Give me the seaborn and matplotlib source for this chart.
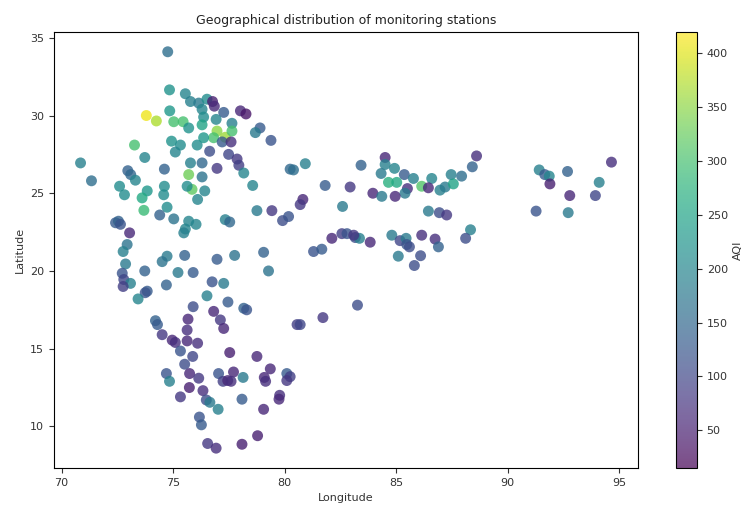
import matplotlib
matplotlib.use("Agg")
import matplotlib.pyplot as plt
import seaborn as sns
import pandas as pd
from matplotlib.colorbar import Colorbar
from matplotlib.colors import Normalize

# Station coordinates and their AQI readings
longitude = [
    74.76, 74.84, 75.55, 75.78, 76.15, 76.52, 76.77, 76.85, 76.30, 77.27,
    78.02, 78.27, 73.80, 74.25, 74.85, 75.03, 75.45, 75.70, 76.37, 76.30,
    76.93, 77.64, 76.97, 77.34, 76.82, 77.64, 77.20, 77.60, 74.93, 75.33,
    76.08, 76.37, 76.64, 75.10, 73.27, 73.73, 74.61, 75.78, 76.30, 76.97,
    77.49, 77.87, 77.95, 78.17, 70.85, 71.34, 72.97, 73.10, 73.31, 72.60,
    73.84, 74.61, 75.70, 75.85, 75.63, 76.30, 76.42, 78.57,
    72.82, 73.61, 74.58, 73.69, 74.73, 74.40, 75.03, 76.10, 75.70, 76.03,
    75.55, 75.48, 77.34, 77.54, 72.42, 72.55, 72.64, 73.05, 72.94, 72.76,
    74.73, 74.51, 75.52, 76.97, 77.76, 72.87, 73.73, 75.22, 75.90, 72.72,
    72.79, 73.09, 72.76, 73.84, 73.75, 74.70, 73.43, 76.75, 77.27, 76.52,
    77.46, 75.90, 76.82, 78.17, 78.30, 74.21, 74.30, 75.67, 77.12, 75.63,
    77.27, 74.51, 74.96, 75.10, 75.63, 76.10, 75.33, 77.54,
    75.88, 78.76, 75.52, 75.74, 76.15, 74.70, 74.84, 77.04, 77.71, 77.24,
    77.45, 77.60, 78.14, 79.36, 79.09, 79.15, 80.10, 80.25, 80.10, 79.78,
    79.75, 79.06, 75.73, 75.33, 76.34, 76.49, 76.65, 77.02, 78.09, 76.18,
    76.27, 76.55, 76.93, 78.09, 78.79, 80.56, 80.70, 81.72, 83.27,
    78.90, 78.69, 79.39, 80.25, 80.40, 80.93, 81.82, 82.94, 83.43, 84.51,
    84.51, 84.93, 84.33, 85.37, 85.78, 86.60, 87.47, 87.94, 88.42, 88.61,
    84.66, 85.03, 85.51, 85.40, 86.15, 86.45, 86.97, 87.20, 87.57, 83.96,
    84.36, 84.96, 80.82, 80.70, 82.60, 86.45, 86.94, 87.27, 82.12, 82.57,
    82.80, 83.17, 83.36, 83.10, 83.84, 81.30, 81.67, 84.81, 85.18, 85.45,
    85.48, 85.60, 86.15, 86.75, 86.90, 85.10, 86.10, 85.82, 88.34, 88.12,
    91.42, 91.67, 91.87, 91.90, 92.69, 92.79, 92.72, 91.28, 94.11, 93.94,
    94.66, 78.76, 79.43, 79.91, 80.18, 79.06, 79.28,
]
latitude = [
    34.10, 31.65, 31.40, 30.90, 30.80, 31.05, 30.90, 30.60, 30.40, 30.20,
    30.30, 30.10, 30.00, 29.65, 30.30, 29.60, 29.60, 29.20, 29.90, 29.40,
    29.75, 29.50, 29.00, 28.60, 28.57, 29.00, 28.30, 28.30, 28.35, 28.10,
    28.10, 28.57, 27.70, 27.65, 28.10, 27.30, 26.55, 26.95, 26.95, 26.60,
    27.50, 27.20, 26.80, 26.30, 26.95, 25.80, 26.45, 26.20, 25.84, 25.45,
    25.15, 25.45, 26.20, 25.25, 25.45, 26.05, 25.15, 25.50,
    24.90, 24.70, 24.90, 23.90, 24.10, 23.60, 23.35, 24.60, 23.20, 23.00,
    22.70, 22.45, 23.30, 23.15, 23.10, 23.20, 23.00, 22.45, 21.70, 21.25,
    20.95, 20.60, 21.00, 20.75, 21.00, 20.45, 20.00, 19.90, 19.90, 19.85,
    19.45, 19.20, 19.00, 18.70, 18.60, 19.10, 18.20, 19.30, 19.20, 18.40,
    18.00, 17.70, 17.40, 17.60, 17.50, 16.80, 16.55, 16.90, 16.85, 16.20,
    16.30, 15.90, 15.55, 15.40, 15.50, 15.35, 14.85, 14.75,
    14.50, 14.50, 14.00, 13.40, 13.10, 13.40, 12.90, 13.40, 13.50, 12.90,
    12.95, 12.90, 13.15, 13.70, 13.15, 12.90, 13.40, 13.20, 12.95, 12.00,
    11.75, 11.10, 12.50, 11.90, 12.30, 11.70, 11.55, 11.10, 11.75, 10.60,
    10.10, 8.90, 8.60, 8.85, 9.40, 16.55, 16.55, 17.00, 17.80,
    29.20, 28.90, 28.40, 26.55, 26.50, 26.90, 25.50, 25.40, 26.80, 27.30,
    26.85, 26.60, 26.27, 26.20, 25.95, 25.95, 26.20, 26.10, 26.70, 27.40,
    25.70, 25.70, 25.30, 25.00, 25.45, 25.35, 25.20, 25.40, 25.60, 25.00,
    24.80, 24.80, 24.60, 24.27, 24.15, 23.85, 23.75, 23.60, 22.10, 22.40,
    22.40, 22.15, 22.10, 22.30, 21.85, 21.25, 21.40, 22.30, 21.95, 22.10,
    21.70, 21.55, 22.30, 22.05, 21.55, 20.95, 20.98, 20.35, 22.65, 22.10,
    26.50, 26.20, 26.10, 25.60, 26.40, 24.85, 23.75, 23.85, 25.70, 24.85,
    27.00, 23.88, 23.88, 23.24, 23.50, 21.20, 20.00,
]
aqi = [
    160, 220, 200, 190, 180, 210, 50, 60, 200, 130,
    60, 40, 410, 370, 230, 300, 300, 220, 210, 250,
    200, 190, 350, 360, 300, 300, 130, 70, 220, 210,
    210, 230, 110, 200, 300, 200, 140, 190, 150, 80,
    100, 80, 90, 200, 190, 160, 140, 150, 200, 210,
    230, 210, 330, 320, 210, 170, 200, 200,
    210, 260, 210, 290, 210, 140, 170, 200, 200, 200,
    200, 190, 190, 150, 130, 140, 120, 60, 170, 190,
    180, 170, 140, 130, 170, 180, 140, 180, 130, 120,
    100, 190, 90, 130, 120, 140, 200, 120, 180, 190,
    130, 110, 60, 140, 120, 140, 130, 60, 80, 70,
    60, 80, 60, 70, 60, 70, 120, 50,
    100, 60, 110, 60, 80, 120, 190, 120, 60, 90,
    60, 70, 180, 60, 60, 70, 130, 90, 80, 70,
    60, 60, 50, 80, 70, 110, 180, 190, 130, 120,
    130, 80, 70, 50, 50, 90, 100, 80, 110,
    130, 180, 120, 150, 160, 190, 130, 80, 140, 60,
    190, 200, 180, 130, 190, 200, 190, 160, 140, 70,
    270, 260, 70, 180, 310, 60, 190, 180, 250, 60,
    180, 60, 60, 80, 180, 180, 110, 80, 60, 90,
    120, 110, 190, 80, 60, 120, 130, 180, 100, 180,
    120, 110, 70, 70, 140, 180, 110, 110, 190, 110,
    190, 130, 200, 50, 140, 60, 180, 120, 190, 100,
    70, 180, 80, 110, 120, 140, 170,
]

df = pd.DataFrame({"Longitude": longitude, "Latitude": latitude, "AQI": aqi})

aqi_min, aqi_max = 15, 420
point_alpha = 0.8

fig = plt.figure(figsize=(7.49, 5.09), dpi=100)
ax = fig.add_axes([0.0721, 0.0806, 0.7797, 0.8566])
cax = fig.add_axes([0.9025, 0.0806, 0.028, 0.8566])

sns.scatterplot(
    data=df, x="Longitude", y="Latitude", hue="AQI",
    palette="viridis", hue_norm=(aqi_min, aqi_max),
    s=62, alpha=point_alpha, linewidth=0, legend=False, ax=ax,
)

ax.set_xticks([70, 75, 80, 85, 90, 95])
ax.set_yticks([10, 15, 20, 25, 30, 35])
ax.tick_params(labelsize=8, colors="#333333")
ax.set_xlabel("Longitude", fontsize=8, color="#333333")
ax.set_ylabel("Latitude", fontsize=8, color="#333333")
ax.set_title("Geographical distribution of monitoring stations", fontsize=9, color="#222222")

cb = Colorbar(cax, cmap=plt.get_cmap("viridis"), norm=Normalize(aqi_min, aqi_max),
              alpha=0.7)
cb.set_ticks([50, 100, 150, 200, 250, 300, 350, 400])
cb.ax.tick_params(labelsize=8, colors="#333333")
cb.set_label("AQI", fontsize=8, color="#333333")

fig.savefig("out.png", dpi=100)
